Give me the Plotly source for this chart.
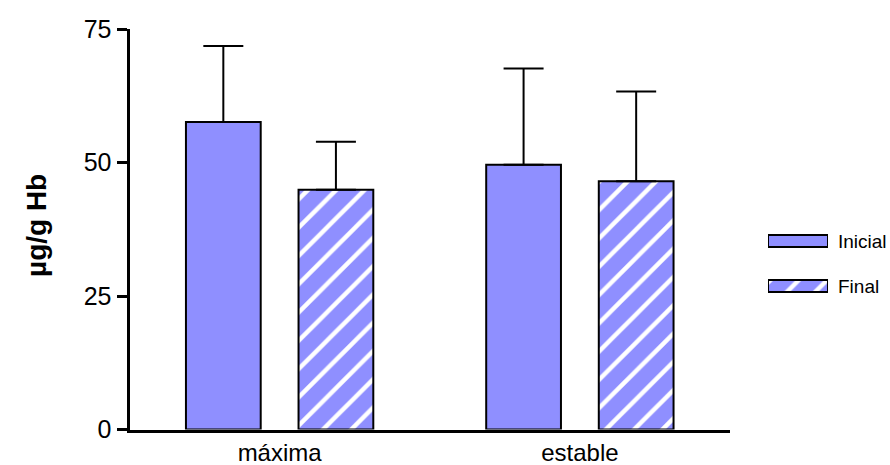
import plotly.graph_objects as go

# Hemoglobin-normalised values (µg/g Hb): mean and SD per condition
categories = ["máxima", "estable"]
series_names = ["Inicial", "Final"]
inicial_mean = [57.6, 49.6]
inicial_sd = [14.2, 18.0]
final_mean = [44.9, 46.5]
final_sd = [9.0, 16.8]
y_ticks = [0, 25, 50, 75]

W, H = 890, 465
FILL = "#8f8fff"
FONT = "Liberation Sans, Arial, sans-serif"


def px_x(v):
    return v / W


def px_y(v):
    return (H - v) / H


hatch = dict(shape="/", bgcolor=FILL, fgcolor="white", size=20, solidity=0.22,
             fillmode="replace")
err_style = dict(type="data", symmetric=False, color="black", thickness=2, width=20)

fig = go.Figure()

fig.add_trace(go.Bar(
    x=categories, y=inicial_mean, name=series_names[0],
    marker=dict(color=FILL, line=dict(color="black", width=2)),
    error_y=dict(array=inicial_sd, arrayminus=[0] * len(inicial_sd), **err_style),
    showlegend=False,
))
fig.add_trace(go.Bar(
    x=categories, y=final_mean, name=series_names[1],
    marker=dict(color=FILL, pattern=hatch, line=dict(color="black", width=2)),
    error_y=dict(array=final_sd, arrayminus=[0] * len(final_sd), **err_style),
    showlegend=False,
))

# Legend swatches drawn as wide bars on a small auxiliary axis pair
fig.add_trace(go.Bar(
    x=[1], y=[1], base=0, orientation="h", width=0.27,
    marker=dict(color=FILL, line=dict(color="black", width=2)),
    xaxis="x2", yaxis="y2", showlegend=False, hoverinfo="skip",
))
fig.add_trace(go.Bar(
    x=[1], y=[0], base=0, orientation="h", width=0.27,
    marker=dict(color=FILL, pattern=hatch, line=dict(color="black", width=2)),
    xaxis="x2", yaxis="y2", showlegend=False, hoverinfo="skip",
))

annotations = [
    dict(text=series_names[0], x=px_x(836), y=px_y(241), xref="paper", yref="paper",
         xanchor="left", yanchor="middle", showarrow=False,
         font=dict(family=FONT, size=19, color="black")),
    dict(text=series_names[1], x=px_x(836), y=px_y(286), xref="paper", yref="paper",
         xanchor="left", yanchor="middle", showarrow=False,
         font=dict(family=FONT, size=19, color="black")),
    dict(text="<b>µg/g Hb</b>", x=px_x(37), y=px_y(226), xref="paper", yref="paper",
         xanchor="center", yanchor="middle", textangle=-90, showarrow=False,
         font=dict(family=FONT, size=28, color="black")),
]

fig.update_layout(
    template="none",
    width=W, height=H,
    margin=dict(l=0, r=0, t=0, b=0, autoexpand=False),
    paper_bgcolor="white", plot_bgcolor="white",
    barmode="group", bargap=0.25, bargroupgap=0.336,
    font=dict(family=FONT, color="black"),
    annotations=annotations,
    xaxis=dict(
        domain=[px_x(129.5), px_x(730)], range=[-0.5, 1.5],
        showline=True, linecolor="black", linewidth=3,
        ticks="", showgrid=False, zeroline=False, automargin=False,
        tickfont=dict(family=FONT, size=24, color="black"),
        anchor="y",
    ),
    yaxis=dict(
        domain=[px_y(429.5), px_y(29)], range=[0, 75],
        tickvals=y_ticks, ticktext=[str(v) for v in y_ticks],
        showline=True, linecolor="black", linewidth=3,
        ticks="outside", ticklen=10, tickwidth=3, tickcolor="black",
        showgrid=False, zeroline=False, automargin=False,
        tickfont=dict(family=FONT, size=25, color="black"),
        anchor="x",
    ),
    xaxis2=dict(domain=[px_x(768), px_x(828)], range=[0, 1], visible=False,
                anchor="y2", fixedrange=True),
    yaxis2=dict(domain=[px_y(301), px_y(226)], range=[-0.3333, 1.3333],
                visible=False, anchor="x2", fixedrange=True),
)

fig.write_html("out.html")
